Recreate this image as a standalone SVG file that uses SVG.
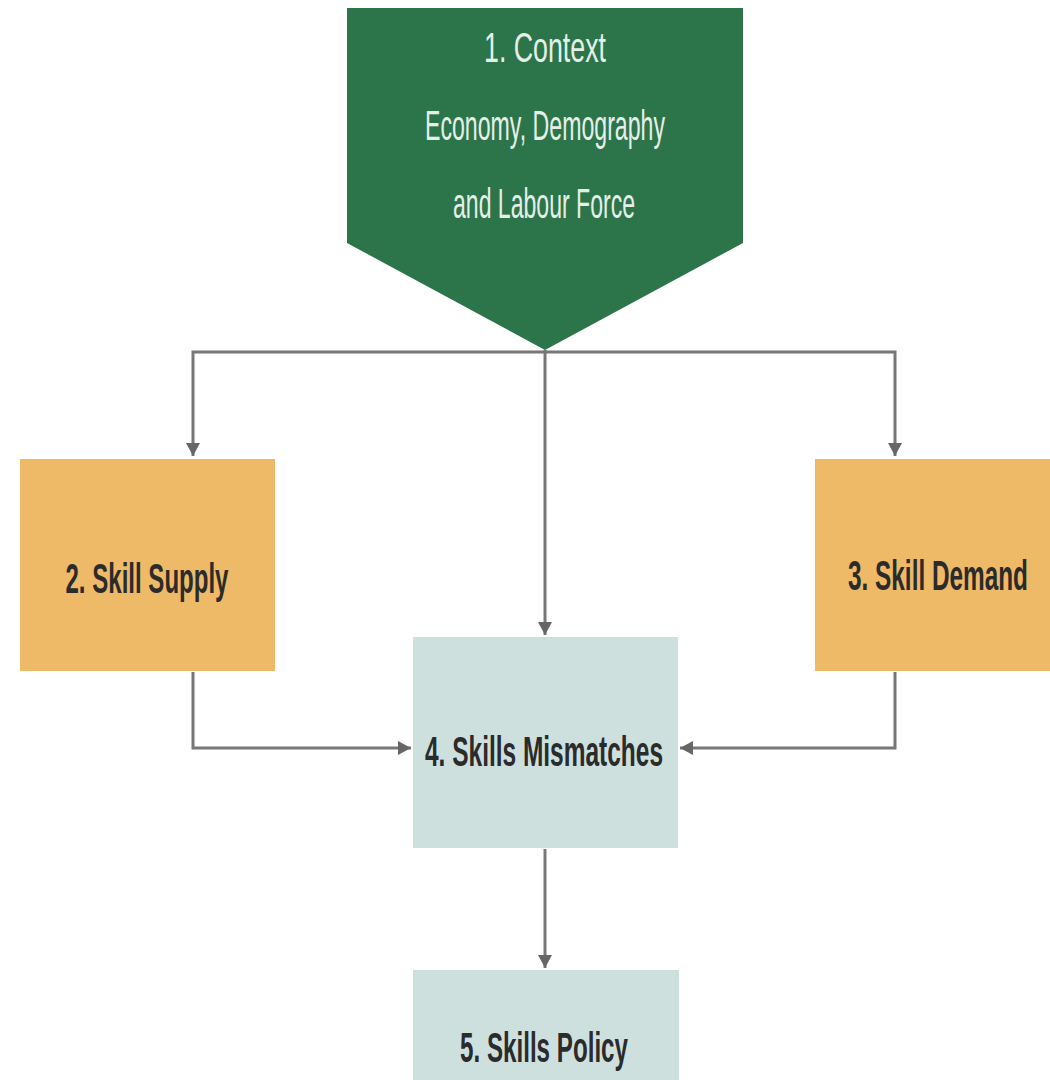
<svg xmlns="http://www.w3.org/2000/svg" width="1050" height="1080" viewBox="0 0 1050 1080">
<style>
.conn{fill:none;stroke:#777;stroke-width:3}
.lbl{font-family:"Liberation Sans Narrow","Liberation Sans",Arial,sans-serif;font-size:42px;text-anchor:middle}
.dark{fill:#2b2b2b;font-weight:bold}
.light{fill:#e4efe8}
.orange{fill:#EFBA67}
.teal{fill:#CEE0DE}
</style>
<defs>
<marker id="ah" markerUnits="userSpaceOnUse" markerWidth="16" markerHeight="16" refX="13" refY="7" orient="auto">
<path d="M0,0 L13,7 L0,14 Z" fill="#666"/>
</marker>
</defs>
<rect width="1050" height="1080" fill="#fff"/>
<g id="connectors">
<polyline class="conn" points="545,350 545,352 193,352 193,456" marker-end="url(#ah)"/>
<polyline class="conn" points="545,352 895,352 895,456" marker-end="url(#ah)"/>
<line class="conn" x1="545" y1="352" x2="545" y2="635" marker-end="url(#ah)"/>
<polyline class="conn" points="193,672 193,748 411,748" marker-end="url(#ah)"/>
<polyline class="conn" points="895,672 895,748 680,748" marker-end="url(#ah)"/>
<line class="conn" x1="545" y1="849" x2="545" y2="968" marker-end="url(#ah)"/>
</g>
<g id="node1">
<polygon points="347,8 743,8 743,243 545,350 347,243" fill="#2C744A"/>
<text class="lbl light" x="545" y="62" textLength="122" lengthAdjust="spacingAndGlyphs">1. Context</text>
<text class="lbl light" x="545" y="140" textLength="240" lengthAdjust="spacingAndGlyphs">Economy, Demography</text>
<text class="lbl light" x="544" y="218" textLength="182" lengthAdjust="spacingAndGlyphs">and Labour Force</text>
</g>
<g id="node2">
<rect class="orange" x="20" y="459" width="255" height="212"/>
<text class="lbl dark" x="147" y="593" textLength="163" lengthAdjust="spacingAndGlyphs">2. Skill Supply</text>
</g>
<g id="node3">
<rect class="orange" x="815" y="459" width="235" height="212"/>
<text class="lbl dark" x="938" y="590" textLength="180" lengthAdjust="spacingAndGlyphs">3. Skill Demand</text>
</g>
<g id="node4">
<rect class="teal" x="413" y="637" width="265" height="211"/>
<text class="lbl dark" x="544" y="766" textLength="238" lengthAdjust="spacingAndGlyphs">4. Skills Mismatches</text>
</g>
<g id="node5">
<rect class="teal" x="413" y="970" width="266" height="110"/>
<text class="lbl dark" x="544" y="1062" textLength="168" lengthAdjust="spacingAndGlyphs">5. Skills Policy</text>
</g>
</svg>
